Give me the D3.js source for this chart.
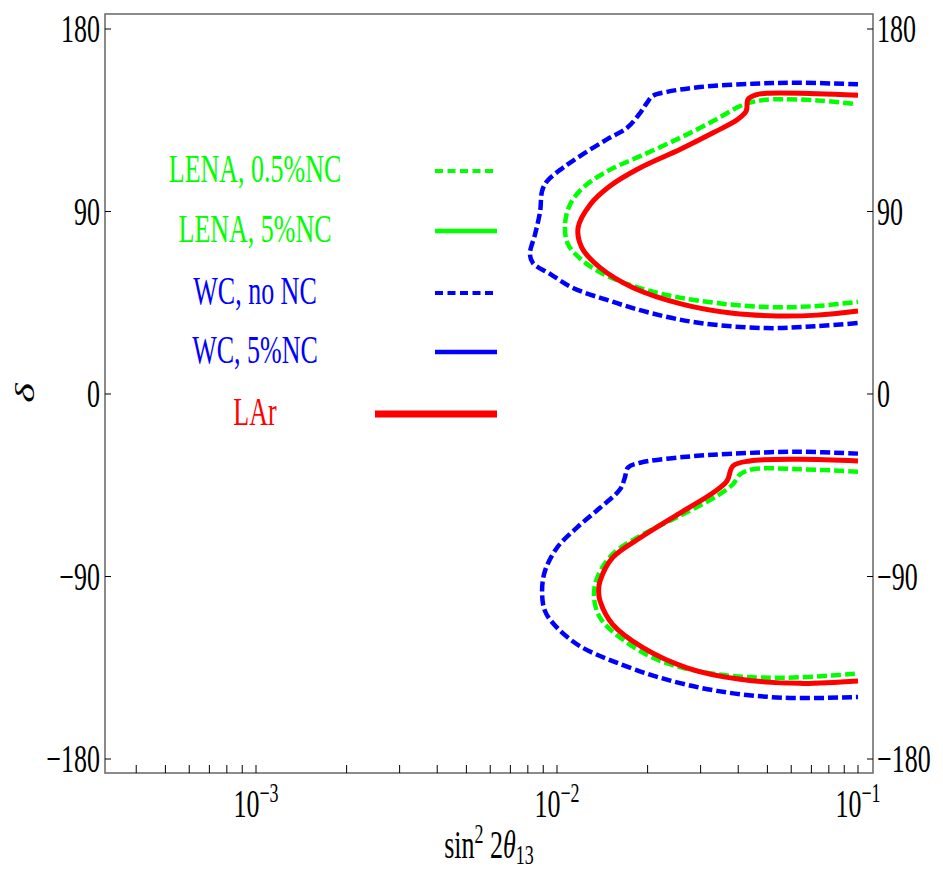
<!DOCTYPE html>
<html>
<head>
<meta charset="utf-8">
<script src="https://cdn.jsdelivr.net/npm/d3@7"></script>
<style>
  body { margin: 0; background: #fff; }
  svg { display: block; }
  text { font-family: "Liberation Serif", "DejaVu Serif", serif; }
</style>
</head>
<body>
<svg id="chart" width="943" height="875"></svg>
<script>
// contour data: [sin^2 2theta13, delta in degrees]
var wcNoNcUpper = [[0.1,152.7],[0.0641,153.5],[0.0448,153],[0.0299,151.4],[0.0232,149],[0.0208,147],
  [0.0199,143.6],[0.0189,138.7],[0.0171,131.3],[0.0147,125.7],[0.0122,118.3],[0.01047,111.6],
  [0.00927,105],[0.00892,100.1],[0.00879,90.2],[0.00846,78.9],[0.00813,69],[0.00832,64.6],
  [0.00948,59.2],[0.0113,52.3],[0.0150,45.9],[0.0204,40],[0.0299,35],[0.0499,32.5],[0.0731,33.5],[0.1,35]];
var wcNoNcLower = [[0.1,-29.4],[0.0641,-28.5],[0.0384,-29.4],[0.0262,-31.1],[0.0189,-33.9],[0.0172,-36.3],
  [0.0168,-41.3],[0.0162,-47],[0.0139,-56.1],[0.01165,-65.9],[0.0100,-75.8],[0.00912,-87.3],
  [0.00892,-97.1],[0.00912,-107],[0.0100,-115.2],[0.0119,-124.3],[0.0153,-131.7],[0.0220,-139.9],
  [0.0340,-146.4],[0.0564,-149.8],[0.1,-149.4]];

var lenaUpper = [[0.0962,143.1],[0.0731,144.8],[0.0522,145.3],[0.0448,144.1],[0.0406,142],[0.0330,134.6],
  [0.0257,126.4],[0.0189,117.3],[0.0147,109.9],[0.0122,101.7],[0.01105,93.5],[0.01063,83.6],
  [0.01088,73.8],[0.0122,65.6],[0.0147,58.2],[0.0204,50.8],[0.0299,45.9],[0.0499,42.9],[0.0731,43.4],[0.1,45.5]];
var lenaLower = [[0.1,-38.3],[0.0641,-37.1],[0.0448,-37.1],[0.0406,-39.6],[0.0384,-44.5],[0.0340,-50.3],
  [0.0262,-59.3],[0.0193,-69.2],[0.0153,-79],[0.0136,-90.6],[0.01327,-100.4],[0.0139,-110.3],
  [0.0162,-120.1],[0.0220,-131.6],[0.0340,-138.2],[0.0564,-139.9],[0.0996,-137.9]];

var larUpper = [[0.1,147.3],[0.0731,148.1],[0.0499,148.3],[0.0455,147.4],[0.0431,145.3],[0.0425,139.5],
  [0.0399,135.5],[0.0330,128.8],[0.0257,120.7],[0.0189,111.6],[0.0150,102.6],[0.0129,93.5],
  [0.01175,82],[0.0121,72.1],[0.0139,62.3],[0.0179,52.4],[0.0262,44.2],[0.0384,39.8],[0.0538,38.5],
  [0.0731,38.9],[0.1,40.9]];
var larLower = [[0.1,-33],[0.0641,-32.2],[0.0437,-33],[0.0384,-35.5],[0.0367,-42.9],[0.0330,-48.7],
  [0.0257,-58.6],[0.0189,-70.9],[0.0153,-80.7],[0.0139,-92.2],[0.01375,-97],[0.0139,-102.1],[0.0153,-113.6],
  [0.0193,-125.1],[0.0270,-135],[0.0406,-140.7],[0.0641,-142.7],[0.1,-141.5]];

var legendLabels = ["LENA, 0.5%NC", "LENA, 5%NC", "WC, no NC", "WC, 5%NC", "LAr"];
var yTicks = [-180, -90, 0, 90, 180];
var xMajor = [-3, -2, -1];   // exponents

var svg = d3.select("#chart");
var SY = 1.5;   // the original figure is stretched vertically

var x = d3.scaleLog().domain([Math.pow(10, -3.5017), Math.pow(10, -0.9502)]).range([105, 873]);
var y = d3.scaleLinear().domain([-186.9, 187.4]).range([773, 14]);

function label(g, px, py, str, anchor, size, color) {
  return g.append("text")
    .attr("transform", "translate(" + px + "," + py + ") scale(1," + SY + ")")
    .attr("text-anchor", anchor)
    .attr("font-size", size)
    .attr("fill", color || "#000")
    .text(str);
}

svg.append("clipPath").attr("id", "clip")
  .append("rect").attr("x", 105).attr("y", 14).attr("width", 768).attr("height", 759);

// curves
var line = d3.line()
  .x(function (d) { return x(d[0]); })
  .y(function (d) { return y(d[1]); })
  .curve(d3.curveCatmullRom.alpha(0.5));

var curves = svg.append("g").attr("clip-path", "url(#clip)").attr("fill", "none");
[wcNoNcUpper, wcNoNcLower].forEach(function (c) {
  curves.append("path").attr("d", line(c)).attr("stroke", "#0000ff")
    .attr("stroke-width", 4.5).attr("stroke-dasharray", "10,4");
});
[lenaUpper, lenaLower].forEach(function (c) {
  curves.append("path").attr("d", line(c)).attr("stroke", "#00ff00")
    .attr("stroke-width", 4.5).attr("stroke-dasharray", "10,4");
});
[larUpper, larLower].forEach(function (c) {
  curves.append("path").attr("d", line(c)).attr("stroke", "#ff0000")
    .attr("stroke-width", 5);
});

// frame
var axes = svg.append("g");
axes.append("rect").attr("x", 105).attr("y", 14).attr("width", 768).attr("height", 759)
  .attr("fill", "none").attr("stroke", "#6e6e6e").attr("stroke-width", 1.6);

// y ticks, both sides
yTicks.forEach(function (t) {
  var py = y(t);
  axes.append("line").attr("x1", 105).attr("x2", 111).attr("y1", py).attr("y2", py)
    .attr("stroke", "#000").attr("stroke-width", 1);
  axes.append("line").attr("x1", 867).attr("x2", 873).attr("y1", py).attr("y2", py)
    .attr("stroke", "#000").attr("stroke-width", 1);
  var s = t < 0 ? "\u2212" + Math.abs(t) : String(t);
  label(axes, 100, py + 13, s, "end", 26);
  label(axes, 877, py + 13, s, "start", 26);
});

// x ticks (log, major + minor)
var xTickVals = [];
for (var e = -4; e <= -1; e++) {
  for (var m = 1; m <= 9; m++) {
    var v = m * Math.pow(10, e);
    if (v >= x.domain()[0] && v <= 0.1000001) xTickVals.push(v);
  }
}
xTickVals.forEach(function (v) {
  axes.append("line").attr("x1", x(v)).attr("x2", x(v)).attr("y1", 773).attr("y2", 765)
    .attr("stroke", "#000").attr("stroke-width", 1);
});
xMajor.forEach(function (p) {
  var t = axes.append("text")
    .attr("transform", "translate(" + x(Math.pow(10, p)) + ",817) scale(1," + SY + ")")
    .attr("text-anchor", "middle").attr("font-size", 26);
  t.append("tspan").text("10");
  t.append("tspan").attr("font-size", 18).attr("dy", -10).text("\u2212" + Math.abs(p));
});

// axis titles
var xt = axes.append("text")
  .attr("transform", "translate(489,858) scale(1," + SY + ")")
  .attr("text-anchor", "middle").attr("font-size", 26);
xt.append("tspan").text("sin");
xt.append("tspan").attr("font-size", 18).attr("dy", -10).text("2");
xt.append("tspan").attr("dy", 10).text(" 2");
xt.append("tspan").attr("font-style", "italic").text("\u03b8");
xt.append("tspan").attr("font-size", 18).attr("dy", 4).text("13");

axes.append("text")
  .attr("transform", "translate(34,393) rotate(-90) scale(" + SY + ",1)")
  .attr("text-anchor", "middle").attr("font-size", 28).attr("font-style", "italic")
  .text("\u03b4");

// legend
var legColors = ["#00ff00", "#00ff00", "#0000ff", "#0000ff", "#ff0000"];
var legDash = ["8,4.5", null, "8,4.5", null, null];
var legY = [171, 231, 293, 352, 414];
var leg = svg.append("g");
legendLabels.forEach(function (name, i) {
  label(leg, 255, legY[i] + 11, name, "middle", 26, legColors[i]);
  leg.append("line")
    .attr("x1", i === 4 ? 375 : 435).attr("x2", 497)
    .attr("y1", legY[i]).attr("y2", legY[i])
    .attr("stroke", legColors[i])
    .attr("stroke-width", i === 4 ? 7 : (legDash[i] ? 4 : 4.5))
    .attr("stroke-dasharray", legDash[i]);
});
</script>
</body>
</html>
